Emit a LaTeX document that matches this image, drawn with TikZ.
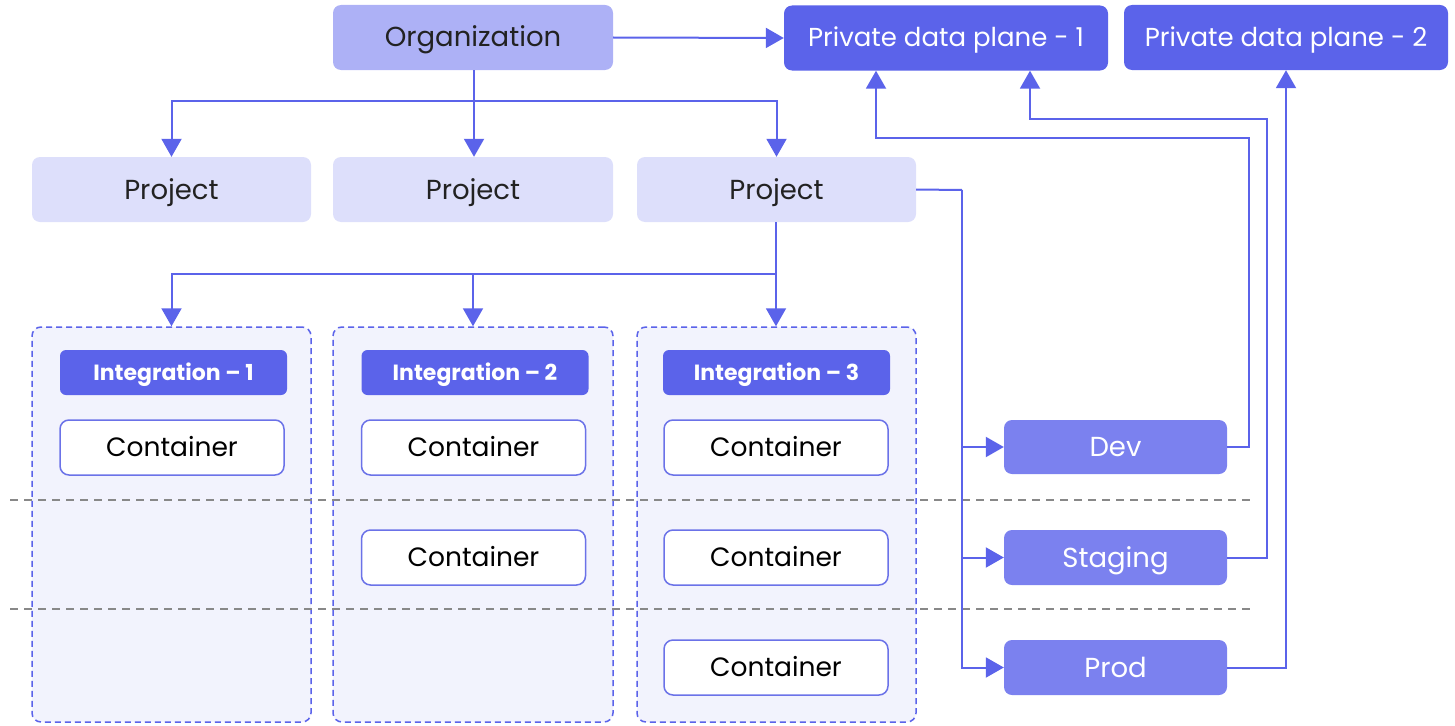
\documentclass[tikz,border=0pt]{standalone}
\usepackage{fontspec}
\setmainfont{Poppins}
\usetikzlibrary{arrows.meta}
\definecolor{mainblue}{HTML}{5B63EA}
\definecolor{orgfill}{HTML}{ADB1F6}
\definecolor{projfill}{HTML}{DDDFFB}
\definecolor{intfill}{HTML}{F2F3FD}
\definecolor{envfill}{HTML}{7B81EF}
\definecolor{contborder}{HTML}{6B72E8}
\definecolor{darktext}{HTML}{222222}
\definecolor{sepgrey}{HTML}{888888}
\begin{document}
\begin{tikzpicture}[x=1pt,y=-1pt,
  base/.style={rounded corners=8pt, inner sep=0pt, text height=19pt, text depth=0pt, font=\fontsize{27.5}{32}\selectfont},
  orgbox/.style={base, fill=orgfill, text=darktext},
  pdpbox/.style={base, fill=mainblue, text=white, minimum width=324pt, minimum height=65pt, text height=18pt, font=\fontsize{26}{30}\selectfont},
  projbox/.style={base, fill=projfill, text=darktext, minimum height=65pt},
  intbox/.style={rounded corners=9pt, fill=intfill, draw=mainblue, line width=1.5pt, dash pattern=on 6pt off 4pt, minimum height=395pt},
  intlabel/.style={base, rounded corners=6pt, fill=mainblue, text=white, minimum width=227pt, minimum height=45pt, text height=15.5pt, font=\fontsize{22}{26}\selectfont\bfseries},
  contbox/.style={base, rounded corners=9pt, fill=white, draw=contborder, line width=1.5pt, text=black, minimum width=224pt, minimum height=55pt, text height=18.5pt, font=\fontsize{26.5}{30}\selectfont},
  envbox/.style={base, fill=envfill, text=white, minimum width=223pt, minimum height=55pt},
  wire/.style={draw=mainblue, line width=2pt},
  conn/.style={wire, -{Triangle[width=20pt,length=18pt]}},
  sepline/.style={draw=sepgrey, line width=2pt, dash pattern=on 8pt off 6pt}
]
\useasboundingbox (0,0) rectangle (1455,725);

% top row
\node[orgbox, minimum width=280pt, minimum height=65pt] (org) at (473,37.5) {Organization};
\node[pdpbox] (pdp1) at (946,38) {Private data plane - 1};
\node[pdpbox] (pdp2) at (1286,37.5) {Private data plane - 2};

% projects
\node[projbox, minimum width=279pt] (proj1) at (171.5,189.5) {Project};
\node[projbox, minimum width=280pt] (proj2) at (473,189.5) {Project};
\node[projbox, minimum width=279pt] (proj3) at (776.5,189.5) {Project};

% integration boxes
\node[intbox, minimum width=279pt] (int1) at (171.5,524.5) {};
\node[intbox, minimum width=280pt] (int2) at (473,524.5) {};
\node[intbox, minimum width=279pt] (int3) at (776.5,524.5) {};

% separators
\draw[sepline] (10,500) -- (1250,500);
\draw[sepline] (10,609) -- (1250,609);

% integration labels
\node[intlabel] (il1) at (173.5,372.5) {Integration – 1};
\node[intlabel] (il2) at (475,372.5) {Integration – 2};
\node[intlabel] (il3) at (776.5,372.5) {Integration – 3};

% containers
\node[contbox] (c1a) at (172,447.5) {Container};
\node[contbox] (c2a) at (473.5,447.5) {Container};
\node[contbox] (c3a) at (776,447.5) {Container};
\node[contbox] (c2b) at (473.5,557.5) {Container};
\node[contbox] (c3b) at (776,557.5) {Container};
\node[contbox] (c3c) at (776,667.5) {Container};

% environments
\node[envbox, minimum height=54pt] (dev) at (1115.5,447) {Dev};
\node[envbox] (stg) at (1115.5,557.5) {Staging};
\node[envbox] (prod) at (1115.5,667.5) {Prod};

% connectors: organization
\draw[conn] (org.east) -- (pdp1.west);
\coordinate (ob) at (474,101);
\draw[wire] (org.south -| ob) -- (ob);
\draw[conn] (ob) -- (ob |- proj2.north);
\draw[conn] (ob) -| (proj1.north);
\draw[conn] (ob) -| (proj3.north);

% connectors: project 3 to integrations
\coordinate (pb) at (776,274);
\draw[wire] (proj3.south -| pb) -- (pb);
\draw[conn] (pb) -- (pb |- int3.north);
\draw[conn] (pb) -| (int2.north);
\draw[conn] (pb) -| (int1.north);

% connectors: project 3 to environments
\coordinate (rb) at (962,190);
\draw[wire] (proj3.east) -- (rb);
\draw[conn] (rb) |- (dev.west);
\draw[conn] (rb) |- (stg.west);
\draw[conn] (rb) |- (prod.west);

% connectors: environments to data planes
\coordinate (d1) at (1249,138);
\coordinate (d2) at (876,138);
\draw[conn] (dev.east) -| (d1) -- (d2) -- (d2 |- pdp1.south);
\coordinate (s1) at (1267,119);
\coordinate (s2) at (1030,119);
\draw[conn] (stg.east) -| (s1) -- (s2) -- (s2 |- pdp1.south);
\draw[conn] (prod.east) -| (pdp2.south);
\end{tikzpicture}
\end{document}
